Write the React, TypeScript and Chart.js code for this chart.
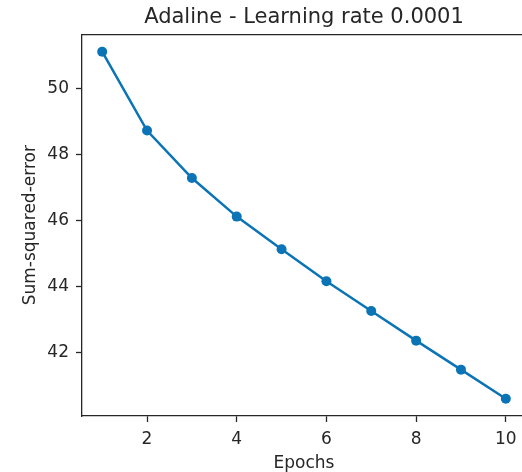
import React, { useEffect, useRef } from "react";
import { Chart, registerables } from "chart.js";

Chart.register(...registerables);

const epochs = [1, 2, 3, 4, 5, 6, 7, 8, 9, 10];
const sse = [51.13, 48.74, 47.3, 46.13, 45.14, 44.17, 43.27, 42.37, 41.49, 40.61];
const xTicks = [2, 4, 6, 8, 10];
const yTicks = [42, 44, 46, 48, 50];
const titleText = "Adaline - Learning rate 0.0001";
const xLabel = "Epochs";
const yLabel = "Sum-squared-error";

const FONT = "'DejaVu Sans', sans-serif";
const INK = "#262626";
const BLUE = "#0a74b6";

export default function App() {
  const ref = useRef<HTMLCanvasElement | null>(null);

  useEffect(() => {
    if (!ref.current) return;
    const chart = new Chart(ref.current, {
      type: "line",
      data: {
        datasets: [
          {
            data: epochs.map((x, i) => ({ x, y: sse[i] })),
            borderColor: BLUE,
            backgroundColor: BLUE,
            pointBackgroundColor: BLUE,
            pointBorderColor: BLUE,
            borderWidth: 2.5,
            pointRadius: 5,
            pointBorderWidth: 0,
            tension: 0,
          },
        ],
      },
      options: {
        responsive: false,
        animation: false,
        devicePixelRatio: 1,
        layout: { padding: { left: 0, right: 34, top: 0, bottom: 0 } },
        plugins: {
          legend: { display: false },
          tooltip: { enabled: false },
          title: {
            display: true,
            text: titleText,
            fullSize: false,
            color: INK,
            font: { family: FONT, size: 21, weight: "normal" },
            padding: { top: 5, bottom: 0 },
          },
        },
        scales: {
          x: {
            type: "linear",
            position: "bottom",
            min: 0.55,
            max: 10.45,
            afterBuildTicks: (s: any) => {
              s.ticks = xTicks.map((v) => ({ value: v }));
            },
            afterFit: (s: any) => {
              s.height = 56;
            },
            grid: {
              display: true,
              drawOnChartArea: false,
              drawTicks: true,
              tickLength: 6,
              tickColor: INK,
              tickWidth: 1.3,
            },
            border: { display: true, color: INK, width: 1.3 },
            ticks: {
              color: INK,
              font: { family: FONT, size: 17 },
              padding: 7,
              maxRotation: 0,
              autoSkip: false,
            },
            title: {
              display: true,
              text: xLabel,
              color: INK,
              font: { family: FONT, size: 17, lineHeight: 1.0 },
              padding: { top: 0, bottom: 0 },
            },
          },
          x2: {
            type: "linear",
            position: "top",
            afterFit: (s: any) => {
              s.height = 4.2;
            },
            grid: { display: false },
            ticks: { display: false },
            border: { display: true, color: INK, width: 1.3 },
          },
          y: {
            type: "linear",
            position: "left",
            min: 40.085,
            max: 51.655,
            afterBuildTicks: (s: any) => {
              s.ticks = yTicks.map((v) => ({ value: v }));
            },
            afterFit: (s: any) => {
              s.width = 82;
            },
            grid: {
              display: true,
              drawOnChartArea: false,
              drawTicks: true,
              tickLength: 6,
              tickColor: INK,
              tickWidth: 1.3,
            },
            border: { display: true, color: INK, width: 1.3 },
            ticks: {
              color: INK,
              font: { family: FONT, size: 17 },
              padding: 7,
              autoSkip: false,
            },
            title: {
              display: true,
              text: yLabel,
              color: INK,
              font: { family: FONT, size: 17 },
              padding: { top: 20, bottom: 0 },
            },
          },
        },
      },
    } as any);
    return () => chart.destroy();
  }, []);

  return (
    <div
      style={{
        position: "fixed",
        left: 0,
        top: 0,
        width: 522,
        height: 472,
        overflow: "hidden",
        background: "#fff",
      }}
    >
      <canvas ref={ref} width={560} height={472} style={{ display: "block" }} />
    </div>
  );
}
